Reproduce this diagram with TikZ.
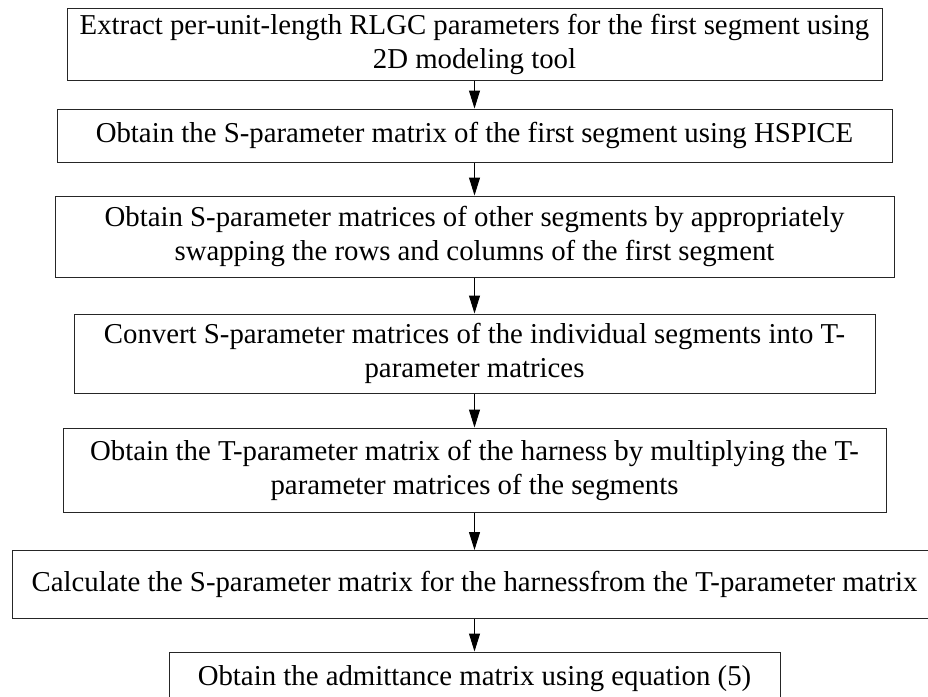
\documentclass[tikz,border=0pt]{standalone}
\usepackage{fontspec}
\setmainfont{Liberation Serif}
\usepackage{tikz}
\usetikzlibrary{arrows.meta,shapes}
\tikzstyle{stepbox}=[rectangle, draw=black!85
,line width=1pt
,inner sep=0pt
,align=center
,font=\fontsize{28.8}{34}\selectfont
]
\tikzstyle{edge} = [draw,line width=1pt,-{Triangle[length=18pt,width=11pt]}]

\begin{document}
\begin{tikzpicture}[x=1pt,y=-1pt]
    \useasboundingbox (0,0) rectangle (928,696);
    \clip (0,0) rectangle (928,696);
    % Draw the steps of the procedure, top to bottom
    \node[stepbox, minimum width=815pt, minimum height=72pt] (rlgc) at (474.5,44)
        {Extract per-unit-length RLGC parameters for the first segment using\\2D modeling tool};
    \node[stepbox, minimum width=835pt, minimum height=53pt] (sfirst) at (474.5,135.5)
        {Obtain the S-parameter matrix of the first segment using HSPICE};
    \node[stepbox, minimum width=839pt, minimum height=81pt] (sother) at (474.5,236.5)
        {Obtain S-parameter matrices of other segments by appropriately\\swapping the rows and columns of the first segment};
    \node[stepbox, minimum width=801pt, minimum height=79pt] (tconv) at (474.5,353.5)
        {Convert S-parameter matrices of the individual segments into T-\\parameter matrices};
    \node[stepbox, minimum width=823pt, minimum height=84pt] (tharn) at (474.5,470)
        {Obtain the T-parameter matrix of the harness by multiplying the T-\\parameter matrices of the segments};
    \node[stepbox, minimum width=925pt, minimum height=68pt] (sharn) at (474.5,584.5)
        {Calculate the S-parameter matrix for the harnessfrom the T-parameter matrix};
    \node[stepbox, minimum width=611pt, minimum height=53pt] (admit) at (474.5,678.5)
        {Obtain the admittance matrix using equation (5)};

    % Connect the steps with arrows
    \foreach \source/ \dest in {rlgc/sfirst, sfirst/sother, sother/tconv, tconv/tharn, tharn/sharn, sharn/admit}
        \path[edge] (\source) -- (\dest);

\end{tikzpicture}
\end{document}
